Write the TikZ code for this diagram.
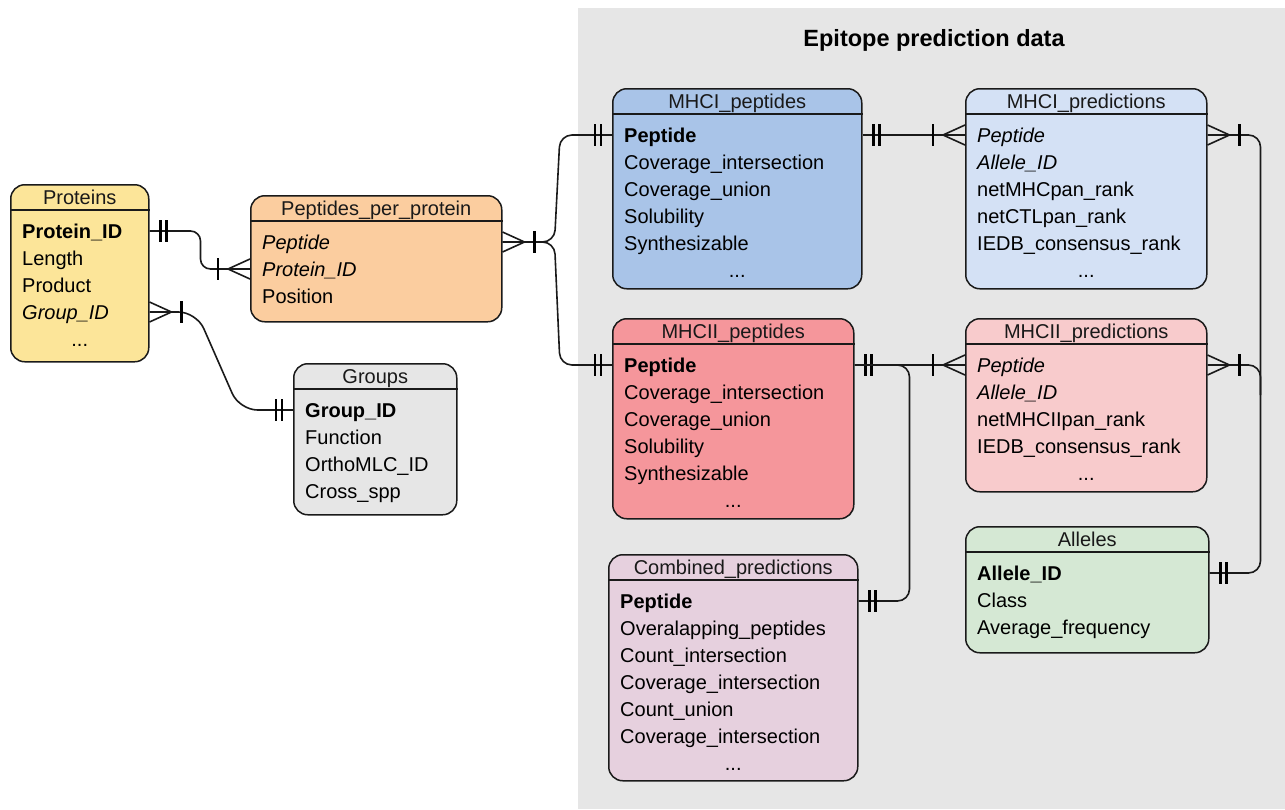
\documentclass[tikz,border=0pt]{standalone}
\usepackage{fontspec}
\setmainfont{Liberation Sans}
\usetikzlibrary{calc}
\definecolor{cPanel}{HTML}{E6E6E6}
\definecolor{cProt}{HTML}{FCE599}
\definecolor{cPpp}{HTML}{FBCD9F}
\definecolor{cGrp}{HTML}{E6E6E6}
\definecolor{cMa}{HTML}{A9C4E8}
\definecolor{cMb}{HTML}{F5969B}
\definecolor{cPa}{HTML}{D4E1F5}
\definecolor{cPb}{HTML}{F8CBCC}
\definecolor{cAl}{HTML}{D5E8D4}
\definecolor{cCo}{HTML}{E6D0DE}
\definecolor{cLine}{HTML}{1A1A1A}
\tikzset{
  entity/.style={draw=cLine, line width=1.5pt, rounded corners=14pt, inner sep=0pt},
  hline/.style={draw=cLine, line width=1.8pt},
  hdr/.style={font=\fontsize{20}{24}\selectfont, inner sep=0pt, text height=14.3pt, text depth=0pt, text=black!90},
  row/.style={font=\fontsize{20}{24}\selectfont, inner sep=0pt, text height=14.3pt, text depth=0pt, anchor=west},
  conn/.style={line width=1.6pt, draw=cLine},
  tickline/.style={line width=2.2pt, draw=black, line cap=butt},
  mone/.pic={\draw[tickline] (11,-11)--(11,11) (17,-11)--(17,11);},
  omany/.pic={\draw[conn] (0,-10)--(22,0)--(0,10); \draw[tickline] (32,-11)--(32,11);},
}
\newcommand\erbox[7]{%
  \node[entity, fill=#6, minimum width=#4pt, minimum height=#5pt, anchor=north west] (#1) at (#2,#3) {};
  \draw[hline] ([yshift=-26pt]#1.north west) -- ([yshift=-26pt]#1.north east);
  \node[hdr] (#1-h) at ([yshift=-13pt]#1.north) {#7};
}
\newcommand\errows[2]{%
  \foreach \t [count=\i] in {#2} {\node[row] (#1-\i) at ([xshift=12pt,yshift={-(47+27*(\i-1))*1pt}]#1.north west) {\t};}%
}
\newcommand\erdots[2]{%
  \node[row, anchor=center] (#1-d) at ([yshift={-(47+27*#2)*1pt}]#1.north) {...};
}
\begin{document}
\begin{tikzpicture}[x=1pt,y=-1pt]
\useasboundingbox (0,0) rectangle (1285,809);
\fill[cPanel] (578,8) rectangle (1285,809);
\node[font=\fontsize{23.5}{28}\selectfont\bfseries, inner sep=0pt, text height=17pt, text depth=0pt] (title) at (934,38) {Epitope prediction data};

\erbox{prot}{10}{184}{138}{177}{cProt}{Proteins}
\errows{prot}{\textbf{Protein\_ID},Length,Product,\textit{Group\_ID}}
\erdots{prot}{4}

\erbox{ppp}{250}{195}{251}{126}{cPpp}{Peptides\_per\_protein}
\errows{ppp}{\textit{Peptide},\textit{Protein\_ID},Position}

\erbox{grp}{293}{363}{163}{151}{cGrp}{Groups}
\errows{grp}{\textbf{Group\_ID},Function,OrthoMLC\_ID,Cross\_spp}

\erbox{ma}{612}{88}{249}{200}{cMa}{MHCI\_peptides}
\errows{ma}{\textbf{Peptide},Coverage\_intersection,Coverage\_union,Solubility,Synthesizable}
\erdots{ma}{5}

\erbox{mb}{612}{318}{241}{200}{cMb}{MHCII\_peptides}
\errows{mb}{\textbf{Peptide},Coverage\_intersection,Coverage\_union,Solubility,Synthesizable}
\erdots{mb}{5}

\erbox{pa}{965}{88}{241}{200}{cPa}{MHCI\_predictions}
\errows{pa}{\textit{Peptide},\textit{Allele\_ID},netMHCpan\_rank,netCTLpan\_rank,IEDB\_consensus\_rank}
\erdots{pa}{5}

\erbox{pb}{965}{318}{241}{173}{cPb}{MHCII\_predictions}
\errows{pb}{\textit{Peptide},\textit{Allele\_ID},netMHCIIpan\_rank,IEDB\_consensus\_rank}
\erdots{pb}{4}

\erbox{al}{965}{526}{243}{126}{cAl}{Alleles}
\errows{al}{\textbf{Allele\_ID},Class,Average\_frequency}

\erbox{co}{608}{554}{249}{226}{cCo}{Combined\_predictions}
\errows{co}{\textbf{Peptide},Overalapping\_peptides,Count\_intersection,Coverage\_intersection,Count\_union,Coverage\_intersection}
\erdots{co}{6}

% connectors
\draw[conn, rounded corners=10pt] (prot.east |- prot-1.center) -- ++(51,0) |- (ppp.west |- ppp-2.center);
\pic at (prot.east |- prot-1.center) {mone};
\pic[xscale=-1] at (ppp.west |- ppp-2.center) {omany};

\draw[conn, rounded corners=18pt] (prot.east |- prot-4.center) -- ++(47,0) -- ++(43,98) -- (grp.west |- grp-1.center);
\pic at (prot.east |- prot-4.center) {omany};
\pic[xscale=-1] at (grp.west |- grp-1.center) {mone};

\draw[conn, rounded corners=12pt] (ppp.east |- ppp-1.center) -- ++(52,0) -- ([xshift=-52pt]ma.west |- ma-1.center) -- (ma.west |- ma-1.center);
\draw[conn, rounded corners=12pt] (ppp.east |- ppp-1.center) -- ++(52,0) -- ([xshift=-52pt]mb.west |- mb-1.center) -- (mb.west |- mb-1.center);
\pic at (ppp.east |- ppp-1.center) {omany};
\pic[xscale=-1] at (ma.west |- ma-1.center) {mone};
\pic[xscale=-1] at (mb.west |- mb-1.center) {mone};

\draw[conn] (ma.east |- ma-1.center) -- (pa.west |- pa-1.center);
\pic at (ma.east |- ma-1.center) {mone};
\pic[xscale=-1] at (pa.west |- pa-1.center) {omany};

\draw[conn] (mb.east |- mb-1.center) -- (pb.west |- pb-1.center);
\pic at (mb.east |- mb-1.center) {mone};
\pic[xscale=-1] at (pb.west |- pb-1.center) {omany};

\draw[conn, rounded corners=12pt] (mb.east |- mb-1.center) -| ([xshift=51pt]co.east |- co-1.center) -- (co.east |- co-1.center);
\pic at (co.east |- co-1.center) {mone};

\draw[conn, rounded corners=12pt] (pa.east |- pa-1.center) -| ([xshift=51pt]al.east |- al-1.center) -- (al.east |- al-1.center);
\pic at (pa.east |- pa-1.center) {omany};
\pic at (al.east |- al-1.center) {mone};

\draw[conn, rounded corners=12pt] (pb.east |- pb-1.center) -| ++(53,30);
\pic at (pb.east |- pb-1.center) {omany};
\end{tikzpicture}
\end{document}
